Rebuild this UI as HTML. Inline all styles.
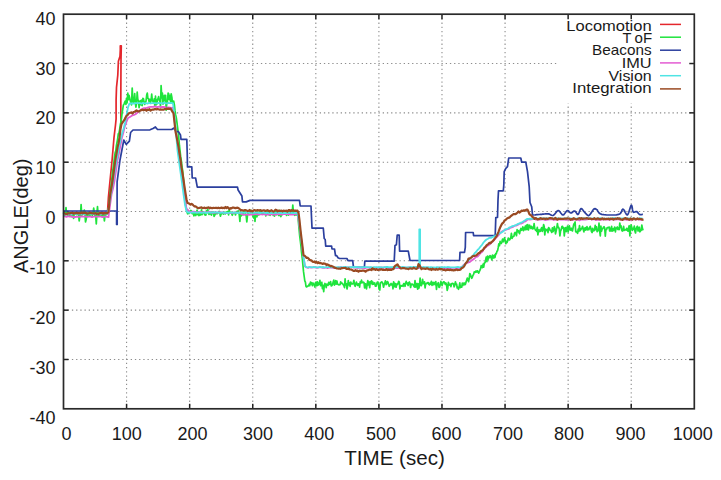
<!DOCTYPE html>
<html><head><meta charset="utf-8"><title>ANGLE vs TIME</title>
<style>
html,body{margin:0;padding:0;background:#fff;}
body{width:721px;height:480px;overflow:hidden;}
svg{display:block;}
text{font-family:"Liberation Sans",sans-serif;fill:#1a1a1a;}
.tk{font-size:18px;}
.ttl{font-size:20px;}
.lg{font-size:14.6px;}
</style></head><body>
<svg width="721" height="480" viewBox="0 0 721 480"><g stroke="#8c8c8c" stroke-width="1.1" stroke-dasharray="1.3 2.9"><line x1="126.58" y1="14.20" x2="126.58" y2="408.80"/><line x1="189.66" y1="14.20" x2="189.66" y2="408.80"/><line x1="252.74" y1="14.20" x2="252.74" y2="408.80"/><line x1="315.82" y1="14.20" x2="315.82" y2="408.80"/><line x1="378.90" y1="14.20" x2="378.90" y2="408.80"/><line x1="441.98" y1="14.20" x2="441.98" y2="408.80"/><line x1="505.06" y1="14.20" x2="505.06" y2="408.80"/><line x1="568.14" y1="14.20" x2="568.14" y2="408.80"/><line x1="631.22" y1="14.20" x2="631.22" y2="408.80"/><line x1="63.50" y1="63.53" x2="694.30" y2="63.53"/><line x1="63.50" y1="112.85" x2="694.30" y2="112.85"/><line x1="63.50" y1="162.18" x2="694.30" y2="162.18"/><line x1="63.50" y1="211.50" x2="694.30" y2="211.50"/><line x1="63.50" y1="260.82" x2="694.30" y2="260.82"/><line x1="63.50" y1="310.15" x2="694.30" y2="310.15"/><line x1="63.50" y1="359.48" x2="694.30" y2="359.48"/></g>
<rect x="558" y="15" width="135" height="88.5" fill="#fff"/>
<g stroke="#222" stroke-width="1.5"><line x1="126.58" y1="408.80" x2="126.58" y2="403.80"/><line x1="126.58" y1="14.20" x2="126.58" y2="19.20"/><line x1="189.66" y1="408.80" x2="189.66" y2="403.80"/><line x1="189.66" y1="14.20" x2="189.66" y2="19.20"/><line x1="252.74" y1="408.80" x2="252.74" y2="403.80"/><line x1="252.74" y1="14.20" x2="252.74" y2="19.20"/><line x1="315.82" y1="408.80" x2="315.82" y2="403.80"/><line x1="315.82" y1="14.20" x2="315.82" y2="19.20"/><line x1="378.90" y1="408.80" x2="378.90" y2="403.80"/><line x1="378.90" y1="14.20" x2="378.90" y2="19.20"/><line x1="441.98" y1="408.80" x2="441.98" y2="403.80"/><line x1="441.98" y1="14.20" x2="441.98" y2="19.20"/><line x1="505.06" y1="408.80" x2="505.06" y2="403.80"/><line x1="505.06" y1="14.20" x2="505.06" y2="19.20"/><line x1="568.14" y1="408.80" x2="568.14" y2="403.80"/><line x1="568.14" y1="14.20" x2="568.14" y2="19.20"/><line x1="631.22" y1="408.80" x2="631.22" y2="403.80"/><line x1="631.22" y1="14.20" x2="631.22" y2="19.20"/><line x1="63.50" y1="63.53" x2="68.50" y2="63.53"/><line x1="694.30" y1="63.53" x2="689.30" y2="63.53"/><line x1="63.50" y1="112.85" x2="68.50" y2="112.85"/><line x1="694.30" y1="112.85" x2="689.30" y2="112.85"/><line x1="63.50" y1="162.18" x2="68.50" y2="162.18"/><line x1="694.30" y1="162.18" x2="689.30" y2="162.18"/><line x1="63.50" y1="211.50" x2="68.50" y2="211.50"/><line x1="694.30" y1="211.50" x2="689.30" y2="211.50"/><line x1="63.50" y1="260.82" x2="68.50" y2="260.82"/><line x1="694.30" y1="260.82" x2="689.30" y2="260.82"/><line x1="63.50" y1="310.15" x2="68.50" y2="310.15"/><line x1="694.30" y1="310.15" x2="689.30" y2="310.15"/><line x1="63.50" y1="359.48" x2="68.50" y2="359.48"/><line x1="694.30" y1="359.48" x2="689.30" y2="359.48"/></g>
<polyline points="63.5,212.5 107.5,212.5 108.4,197.5 110.0,181.2 112.1,160.0 114.0,137.5 115.5,125.0 116.1,118.8 116.1,100.0 116.5,87.5 117.8,75.0 118.4,61.2 120.0,56.2 120.3,50.0 120.3,45.8 121.3,45.8 121.0,60.0 120.8,100.0 120.9,118.8 121.2,125.0" fill="none" stroke="#e4262c" stroke-width="1.7" stroke-linejoin="round" stroke-linecap="butt" />
<polyline points="63.5,212.6 64.1,215.0 64.8,215.9 65.4,213.6 66.0,207.5 66.6,214.3 67.3,215.1 67.9,216.0 68.5,212.6 69.2,212.5 69.8,215.5 70.4,215.1 71.1,216.7 71.7,215.9 72.3,214.2 72.9,214.0 73.6,218.3 74.2,214.0 74.8,213.2 75.5,212.7 76.1,214.5 76.7,214.6 77.4,213.9 78.0,214.3 78.6,214.8 79.2,221.0 79.9,216.0 80.5,214.7 81.1,204.5 81.8,215.5 82.4,212.3 83.0,214.1 83.7,212.2 84.3,210.0 84.9,213.2 85.5,222.0 86.2,219.4 86.8,214.3 87.4,215.7 88.1,212.4 88.7,214.0 89.3,215.4 90.0,214.3 90.6,215.0 91.2,214.6 91.8,212.9 92.5,215.2 93.1,213.2 93.7,208.0 94.4,213.6 95.0,215.4 95.6,214.4 96.3,224.0 96.9,213.5 97.5,206.5 98.1,214.2 98.8,216.3 99.4,215.3 100.0,214.6 100.7,213.2 101.3,215.6 101.9,215.1 102.6,216.9 103.2,213.8 103.8,215.2 104.4,221.0 105.1,214.8 105.7,214.7 106.3,214.7 107.0,213.5 107.6,213.6 108.2,211.4 108.9,206.0 109.5,198.8 110.1,193.2 110.7,188.0 111.4,182.6 112.0,177.3 112.6,171.6 113.3,166.7 113.9,162.3 114.5,156.6 115.2,152.5 115.8,150.8 116.4,145.7 117.0,142.5 117.7,138.6 118.3,133.8 118.9,133.5 119.6,129.8 120.2,125.4 120.8,122.4 121.5,118.3 122.1,113.2 122.7,109.4 123.3,105.3 124.0,104.1 124.6,102.6 125.2,101.1 125.9,104.4 126.5,98.3 127.1,102.8 127.8,93.0 128.4,99.6 129.0,95.3 129.6,97.8 130.3,101.1 130.9,102.0 131.5,104.9 132.2,88.0 132.8,100.4 133.4,102.3 134.1,100.0 134.7,93.5 135.3,102.7 135.9,107.1 136.6,103.3 137.2,92.0 137.8,99.2 138.5,101.0 139.1,107.6 139.7,102.1 140.4,100.7 141.0,104.9 141.6,100.1 142.2,105.7 142.9,98.3 143.5,98.9 144.1,102.4 144.8,104.4 145.4,102.2 146.0,101.2 146.7,95.0 147.3,93.0 147.9,98.5 148.5,98.7 149.2,102.0 149.8,99.3 150.4,102.5 151.1,100.5 151.7,94.0 152.3,100.6 153.0,101.5 153.6,102.7 154.2,98.8 154.8,106.0 155.5,96.2 156.1,104.8 156.7,104.4 157.4,99.6 158.0,98.8 158.6,96.6 159.3,100.6 159.9,100.7 160.5,106.5 161.1,85.5 161.8,97.9 162.4,93.0 163.0,104.2 163.7,100.7 164.3,95.4 164.9,100.6 165.6,95.4 166.2,110.2 166.8,103.3 167.4,101.7 168.1,93.0 168.7,93.8 169.3,99.7 170.0,95.5 170.6,101.8 171.2,93.8 171.9,97.4 172.5,103.5 173.1,101.3 173.7,101.2 174.4,104.8 175.0,110.7 175.6,114.7 176.3,117.6 176.9,122.2 177.5,126.8 178.2,132.0 178.8,138.0 179.4,145.2 180.0,150.3 180.7,156.9 181.3,160.5 181.9,165.8 182.6,170.5 183.2,176.5 183.8,181.7 184.5,189.0 185.1,198.6 185.7,205.3 186.3,208.1 187.0,211.8 187.6,213.8 188.2,212.2 188.9,213.5 189.5,212.8 190.1,211.5 190.8,210.5 191.4,210.9 192.0,213.4 192.6,213.7 193.3,212.6 193.9,215.8 194.5,213.7 195.2,214.4 195.8,215.5 196.4,212.0 197.1,210.1 197.7,214.7 198.3,212.2 198.9,215.6 199.6,214.0 200.2,215.1 200.8,214.7 201.5,209.9 202.1,214.6 202.7,212.3 203.4,212.1 204.0,212.7 204.6,214.7 205.2,214.9 205.9,215.1 206.5,210.6 207.1,212.4 207.8,209.4 208.4,213.2 209.0,214.4 209.7,212.1 210.3,213.8 210.9,213.8 211.5,215.1 212.2,212.0 212.8,212.0 213.4,212.1 214.1,216.4 214.7,215.3 215.3,213.2 216.0,213.8 216.6,213.6 217.2,213.7 217.8,213.0 218.5,212.8 219.1,211.3 219.7,212.3 220.4,216.2 221.0,214.3 221.6,213.5 222.3,213.0 222.9,213.5 223.5,214.0 224.1,212.3 224.8,213.7 225.4,213.8 226.0,212.1 226.7,212.1 227.3,211.7 227.9,211.6 228.6,214.9 229.2,209.4 229.8,212.9 230.4,212.4 231.1,212.3 231.7,213.6 232.3,215.3 233.0,213.5 233.6,213.2 234.2,212.4 234.9,213.2 235.5,215.0 236.1,212.7 236.7,211.5 237.4,211.3 238.0,211.5 238.6,211.0 239.3,215.3 239.9,221.5 240.5,213.0 241.2,215.9 241.8,212.3 242.4,214.7 243.0,214.8 243.7,210.8 244.3,210.8 244.9,211.8 245.6,214.9 246.2,215.6 246.8,222.0 247.5,215.2 248.1,212.7 248.7,212.7 249.3,212.5 250.0,212.8 250.6,210.3 251.2,211.7 251.9,211.3 252.5,214.2 253.1,217.0 253.8,218.0 254.4,212.8 255.0,221.5 255.6,212.7 256.3,211.8 256.9,216.8 257.5,214.4 258.2,212.2 258.8,215.0 259.4,214.3 260.1,210.6 260.7,212.5 261.3,213.0 261.9,213.4 262.6,213.6 263.2,212.8 263.8,213.7 264.5,212.4 265.1,211.9 265.7,216.0 266.4,214.0 267.0,214.1 267.6,210.7 268.2,213.1 268.9,214.8 269.5,211.2 270.1,215.3 270.8,212.7 271.4,214.1 272.0,213.2 272.7,213.8 273.3,215.4 273.9,212.7 274.5,216.1 275.2,212.1 275.8,211.8 276.4,214.6 277.1,211.6 277.7,212.8 278.3,214.9 279.0,215.5 279.6,210.4 280.2,214.3 280.8,216.6 281.5,215.4 282.1,213.0 282.7,212.4 283.4,212.9 284.0,211.4 284.6,213.0 285.3,213.1 285.9,213.2 286.5,215.4 287.1,213.0 287.8,210.9 288.4,215.2 289.0,211.6 289.7,212.6 290.3,213.2 290.9,212.8 291.6,211.7 292.2,213.0 292.8,205.0 293.4,212.4 294.1,213.2 294.7,215.3 295.3,214.7 296.0,214.7 296.6,214.9 297.2,211.9 297.9,216.2 298.5,223.0 299.1,229.3 299.7,235.9 300.4,241.3 301.0,246.7 301.6,252.9 302.3,258.7 302.9,265.0 303.5,271.4 304.2,276.5 304.8,280.8 305.4,282.2 306.0,286.5 306.7,286.9 307.3,286.3 307.9,286.0 308.6,285.9 309.2,284.2 309.8,285.6 310.5,282.0 311.1,283.8 311.7,282.7 312.3,285.7 313.0,283.0 313.6,284.0 314.2,285.0 314.9,287.0 315.5,282.5 316.1,282.2 316.8,285.9 317.4,281.9 318.0,285.2 318.6,283.0 319.3,284.0 319.9,280.4 320.5,285.7 321.2,283.1 321.8,282.3 322.4,288.6 323.1,285.7 323.7,291.6 324.3,285.1 324.9,283.5 325.6,284.4 326.2,287.6 326.8,284.1 327.5,285.1 328.1,285.3 328.7,282.3 329.4,284.5 330.0,283.1 330.6,281.6 331.2,286.0 331.9,285.6 332.5,284.4 333.1,282.3 333.8,280.0 334.4,285.2 335.0,284.0 335.7,280.7 336.3,284.1 336.9,281.0 337.5,284.1 338.2,284.5 338.8,284.9 339.4,284.7 340.1,284.6 340.7,281.8 341.3,283.4 342.0,283.1 342.6,283.7 343.2,284.8 343.8,285.5 344.5,287.6 345.1,278.8 345.7,285.0 346.4,283.8 347.0,289.0 347.6,286.2 348.3,280.7 348.9,285.0 349.5,283.1 350.1,286.3 350.8,282.0 351.4,284.0 352.0,283.9 352.7,284.0 353.3,283.0 353.9,280.3 354.6,285.2 355.2,286.3 355.8,284.1 356.4,282.1 357.1,284.6 357.7,285.4 358.3,283.8 359.0,284.2 359.6,287.2 360.2,281.9 360.9,283.0 361.5,280.2 362.1,282.7 362.7,282.6 363.4,282.2 364.0,282.7 364.6,288.0 365.3,283.8 365.9,284.0 366.5,288.8 367.2,284.1 367.8,280.6 368.4,285.0 369.0,282.2 369.7,287.6 370.3,281.6 370.9,283.0 371.6,280.8 372.2,284.4 372.8,282.1 373.5,284.1 374.1,283.4 374.7,282.9 375.3,286.2 376.0,286.2 376.6,284.3 377.2,282.3 377.9,282.0 378.5,284.8 379.1,289.2 379.8,290.0 380.4,282.6 381.0,282.7 381.6,281.9 382.3,282.2 382.9,283.8 383.5,287.2 384.2,284.2 384.8,283.1 385.4,280.8 386.1,284.6 386.7,284.1 387.3,281.6 387.9,281.9 388.6,284.1 389.2,286.3 389.8,285.5 390.5,284.6 391.1,283.5 391.7,284.9 392.4,284.2 393.0,288.8 393.6,281.8 394.2,283.4 394.9,286.9 395.5,283.6 396.1,287.2 396.8,284.1 397.4,284.5 398.0,283.4 398.7,281.3 399.3,282.2 399.9,288.9 400.5,285.6 401.2,285.5 401.8,286.2 402.4,285.4 403.1,286.3 403.7,283.6 404.3,283.7 405.0,286.3 405.6,283.5 406.2,281.4 406.8,283.7 407.5,283.1 408.1,285.5 408.7,282.7 409.4,282.0 410.0,283.5 410.6,287.5 411.3,284.1 411.9,284.5 412.5,284.2 413.1,284.8 413.8,286.1 414.4,287.1 415.0,280.7 415.7,287.1 416.3,284.2 416.9,283.5 417.6,289.2 418.2,283.8 418.8,288.3 419.4,286.2 420.1,278.0 420.7,285.2 421.3,285.7 422.0,283.9 422.6,279.3 423.2,283.5 423.9,283.8 424.5,281.9 425.1,288.0 425.7,283.7 426.4,283.4 427.0,283.6 427.6,282.6 428.3,282.6 428.9,284.4 429.5,284.9 430.2,283.1 430.8,284.0 431.4,281.3 432.0,285.3 432.7,282.6 433.3,284.7 433.9,282.3 434.6,283.1 435.2,284.7 435.8,281.7 436.5,289.4 437.1,284.1 437.7,284.0 438.3,282.7 439.0,287.5 439.6,287.1 440.2,284.8 440.9,281.4 441.5,283.2 442.1,285.6 442.8,283.2 443.4,281.8 444.0,281.8 444.6,282.7 445.3,284.4 445.9,283.0 446.5,284.4 447.2,290.3 447.8,288.2 448.4,282.3 449.1,285.2 449.7,284.7 450.3,284.2 450.9,286.6 451.6,283.6 452.2,283.6 452.8,283.4 453.5,283.9 454.1,286.8 454.7,285.7 455.4,281.8 456.0,284.2 456.6,284.0 457.2,288.0 457.9,287.3 458.5,289.3 459.1,287.1 459.8,282.9 460.4,287.6 461.0,286.8 461.7,287.1 462.3,283.0 462.9,285.5 463.5,283.5 464.2,283.0 464.8,284.8 465.4,284.4 466.1,281.7 466.7,279.9 467.3,278.0 468.0,280.1 468.6,281.7 469.2,278.5 469.8,273.5 470.5,274.9 471.1,276.6 471.7,278.3 472.4,277.0 473.0,275.2 473.6,274.4 474.3,271.8 474.9,272.4 475.5,272.2 476.1,271.0 476.8,272.0 477.4,270.8 478.0,271.7 478.7,273.1 479.3,271.5 479.9,270.4 480.6,268.6 481.2,265.6 481.8,267.3 482.4,267.6 483.1,264.2 483.7,267.2 484.3,263.1 485.0,262.8 485.6,260.2 486.2,257.2 486.9,261.7 487.5,256.0 488.1,259.3 488.7,256.5 489.4,257.7 490.0,255.6 490.6,256.0 491.3,258.2 491.9,259.9 492.5,255.1 493.2,256.4 493.8,258.0 494.4,255.2 495.0,257.4 495.7,253.6 496.3,253.8 496.9,251.4 497.6,250.6 498.2,247.7 498.8,243.8 499.5,245.7 500.1,241.4 500.7,243.3 501.3,243.4 502.0,241.2 502.6,239.0 503.2,241.8 503.9,239.8 504.5,237.9 505.1,240.0 505.8,243.7 506.4,241.3 507.0,242.6 507.6,241.0 508.3,238.0 508.9,239.2 509.5,239.9 510.2,238.9 510.8,237.5 511.4,233.4 512.1,238.4 512.7,236.8 513.3,236.6 513.9,236.3 514.6,233.0 515.2,232.4 515.8,233.6 516.5,235.6 517.1,229.6 517.7,231.8 518.4,230.7 519.0,232.5 519.6,233.7 520.2,230.4 520.9,228.5 521.5,230.3 522.1,229.4 522.8,226.9 523.4,230.7 524.0,228.0 524.7,229.7 525.3,226.0 525.9,229.7 526.5,225.1 527.2,229.4 527.8,224.6 528.4,230.0 529.1,227.1 529.7,225.2 530.3,227.5 531.0,228.5 531.6,226.4 532.2,227.4 532.8,228.9 533.5,228.3 534.1,223.5 534.7,228.2 535.4,230.0 536.0,229.7 536.6,231.3 537.3,227.4 537.9,234.9 538.5,230.8 539.1,229.7 539.8,231.5 540.4,231.2 541.0,229.2 541.7,227.6 542.3,231.4 542.9,230.0 543.6,224.6 544.2,226.5 544.8,235.0 545.4,229.2 546.1,229.6 546.7,230.5 547.3,229.3 548.0,232.6 548.6,227.6 549.2,228.1 549.9,229.7 550.5,230.7 551.1,230.8 551.7,232.4 552.4,227.9 553.0,231.7 553.6,230.1 554.3,226.6 554.9,228.7 555.5,233.8 556.2,230.8 556.8,227.9 557.4,223.5 558.0,227.3 558.7,227.4 559.3,229.2 559.9,236.0 560.6,230.7 561.2,229.7 561.8,226.8 562.5,226.3 563.1,228.5 563.7,227.9 564.3,235.9 565.0,228.1 565.6,227.6 566.2,231.6 566.9,229.2 567.5,226.2 568.1,232.0 568.8,228.3 569.4,225.9 570.0,229.7 570.6,230.1 571.3,228.2 571.9,230.6 572.5,230.9 573.2,227.0 573.8,224.3 574.4,223.5 575.1,222.0 575.7,231.8 576.3,231.3 576.9,232.2 577.6,233.3 578.2,229.0 578.8,231.4 579.5,225.5 580.1,230.6 580.7,229.9 581.4,228.8 582.0,228.0 582.6,226.4 583.2,229.3 583.9,231.9 584.5,228.2 585.1,230.2 585.8,227.5 586.4,229.6 587.0,226.7 587.7,229.9 588.3,228.5 588.9,229.7 589.5,227.6 590.2,226.3 590.8,228.2 591.4,231.4 592.1,232.6 592.7,228.3 593.3,230.8 594.0,230.7 594.6,229.9 595.2,225.4 595.8,229.7 596.5,226.8 597.1,231.7 597.7,230.8 598.4,230.4 599.0,223.2 599.6,230.4 600.3,236.0 600.9,226.1 601.5,231.2 602.1,229.2 602.8,228.6 603.4,227.4 604.0,226.7 604.7,228.0 605.3,236.1 605.9,229.5 606.6,229.5 607.2,227.5 607.8,227.6 608.4,227.7 609.1,227.0 609.7,231.0 610.3,228.4 611.0,231.0 611.6,226.3 612.2,231.1 612.9,228.9 613.5,230.5 614.1,228.8 614.7,227.0 615.4,231.8 616.0,228.0 616.6,228.7 617.3,227.0 617.9,229.5 618.5,228.1 619.2,229.6 619.8,223.0 620.4,227.4 621.0,225.8 621.7,230.0 622.3,231.1 622.9,230.6 623.6,226.4 624.2,230.4 624.8,229.9 625.5,229.7 626.1,230.0 626.7,228.3 627.3,229.5 628.0,231.1 628.6,227.8 629.2,225.7 629.9,236.0 630.5,229.5 631.1,224.8 631.8,227.4 632.4,230.4 633.0,228.7 633.6,229.2 634.3,226.1 634.9,231.1 635.5,233.0 636.2,228.5 636.8,227.3 637.4,226.3 638.1,231.0 638.7,229.2 639.3,227.2 639.9,231.8 640.6,230.8 641.2,230.4 641.8,225.0 642.5,228.8 643.1,230.4" fill="none" stroke="#1ee43c" stroke-width="1.7" stroke-linejoin="round" stroke-linecap="butt" />
<polyline points="63.5,211.0 116.6,211.0 116.6,224.4 117.2,224.4 117.1,200.0 117.1,181.9 120.0,160.0 121.9,150.0 123.8,140.0 126.2,144.4 129.4,141.2 130.6,132.5 133.0,130.0 140.0,130.0 150.0,129.8 153.0,128.5 155.4,127.0 157.5,129.5 172.0,129.3 173.6,128.1 176.0,131.0 178.6,131.9 180.5,135.0 181.0,139.4 186.8,139.4 187.2,152.5 187.5,166.9 191.8,166.9 192.2,178.0 195.6,178.0 197.3,187.2 237.5,187.2 238.1,190.0 240.0,193.0 241.9,196.0 242.5,201.9 246.2,201.9 250.0,200.4 299.5,200.4 300.2,206.0 311.0,206.0 312.0,228.2 323.3,228.2 324.2,238.5 325.2,239.5 325.7,246.1 331.6,246.1 332.0,249.0 334.5,249.0 335.5,255.6 336.7,255.6 338.0,257.8 339.6,258.5 346.9,258.5 348.0,260.7 352.7,260.7 353.5,267.3 364.4,267.3 364.8,261.2 394.2,261.2 395.0,245.4 396.4,244.7 397.2,235.2 399.2,235.2 399.6,251.2 408.3,251.2 410.0,260.5 459.6,260.5 460.0,252.3 464.5,252.3 465.3,247.4 465.6,232.5 473.2,232.5 473.6,235.6 495.2,235.6 495.8,217.5 497.5,217.5 498.0,200.0 498.5,190.8 503.3,190.8 503.8,185.0 504.2,171.7 505.8,168.3 507.5,166.7 508.7,158.0 520.8,158.0 521.7,162.2 525.8,162.2 527.5,171.7 529.2,186.7 530.0,202.5 531.7,206.7 532.5,215.0 534.2,215.0" fill="none" stroke="#2b3f9e" stroke-width="1.7" stroke-linejoin="round" stroke-linecap="butt" />
<polyline points="534.2,215.0 534.6,215.0 535.2,214.9 535.8,214.8 536.5,214.7 537.3,214.7 538.0,214.6 538.7,214.5 539.4,214.5 540.2,214.4 540.9,214.3 541.8,214.3 542.6,214.2 543.5,214.1 544.5,214.0 545.5,213.9 546.5,213.9 547.5,213.8 548.4,213.9 549.3,214.1 550.1,214.5 550.9,214.9 551.7,215.3 552.5,215.5 553.3,215.4 554.1,214.8 554.9,213.9 555.8,212.8 556.6,211.7 557.4,210.9 558.2,210.5 559.0,210.8 559.8,211.6 560.6,212.7 561.4,213.7 562.2,214.6 563.0,214.9 563.8,214.6 564.5,213.8 565.3,212.8 566.0,211.8 566.7,210.9 567.4,210.5 568.0,210.6 568.6,211.0 569.1,211.6 569.7,212.2 570.2,212.8 570.8,213.0 571.4,212.9 572.1,212.5 572.8,211.9 573.4,211.4 574.1,211.1 574.7,211.0 575.3,211.4 575.9,212.1 576.4,212.9 576.9,213.7 577.5,214.3 578.0,214.4 578.5,213.9 579.0,212.8 579.5,211.5 580.0,210.2 580.5,209.2 581.0,208.6 581.5,208.6 581.9,208.9 582.4,209.4 582.9,210.1 583.4,210.9 583.9,211.5 584.5,212.1 585.2,212.9 585.9,213.7 586.6,214.4 587.2,215.0 587.8,215.4 588.2,215.6 588.6,215.6 588.9,215.5 589.2,215.2 589.6,214.9 590.0,214.4 590.6,213.7 591.2,212.7 591.9,211.7 592.6,210.6 593.3,209.7 593.9,209.1 594.4,208.8 594.9,208.7 595.3,208.7 595.7,208.9 596.2,209.2 596.8,209.6 597.4,210.2 597.8,211.1 598.4,212.0 599.1,213.0 600.2,213.8 601.7,214.4 604.0,214.7 606.9,215.0 610.2,215.0 613.4,215.0 616.4,214.8 618.6,214.4 620.1,213.7 621.0,212.6 621.6,211.4 622.0,210.2 622.4,209.4 623.0,209.1 623.7,209.6 624.5,210.8 625.2,212.3 626.0,213.7 626.7,214.7 627.4,214.9 628.1,214.0 628.8,212.2 629.5,210.0 630.2,207.8 630.8,206.0 631.3,205.2 631.7,205.5 632.0,206.5 632.3,208.0 632.5,209.7 632.8,211.1 633.2,212.0 633.7,212.3 634.2,212.2 634.8,212.0 635.4,211.7 636.0,211.5 636.6,211.5 637.1,211.8 637.6,212.3 638.0,212.9 638.5,213.5 639.0,214.0 639.5,214.4 640.1,214.6 640.7,214.6 641.4,214.6 642.0,214.5 642.5,214.4 642.9,214.4" fill="none" stroke="#2b3f9e" stroke-width="1.7" stroke-linejoin="round" stroke-linecap="butt" />
<polyline points="63.5,216.4 65.0,216.4 66.5,216.9 68.0,216.1 69.5,216.7 71.0,216.1 72.5,217.0 74.0,216.8 75.5,217.0 77.0,216.6 78.5,216.8 80.0,216.6 81.5,216.5 83.0,216.7 84.5,216.4 86.0,216.6 87.5,216.9 89.0,216.7 90.5,216.6 92.0,217.2 93.5,216.7 95.0,216.6 96.5,216.7 98.0,216.6 99.5,216.6 101.0,216.6 102.5,217.2 104.0,216.7 105.5,216.7 107.0,216.9 108.5,217.2 110.0,205.3 111.5,194.6 113.0,188.6 114.5,180.9 116.0,170.5 117.5,160.2 119.0,153.2 120.5,145.1 122.0,137.4 123.5,132.1 125.0,125.9 126.5,121.7 128.0,118.1 129.5,117.2 131.0,116.3 132.5,115.3 134.0,114.9 135.5,114.2 137.0,113.0 138.5,111.6 140.0,110.5 141.5,109.3 143.0,108.5 144.5,108.2 146.0,108.2 147.5,107.5 149.0,107.1 150.5,106.9 152.0,106.8 153.5,106.8 155.0,106.3 156.5,107.2 158.0,106.9 159.5,106.6 161.0,107.2 162.5,107.0 164.0,107.0 165.5,107.3 167.0,107.6 168.5,107.3 170.0,107.6 171.5,107.9 173.0,107.7 174.5,119.9 176.0,131.8 177.5,142.0 179.0,153.1 180.5,164.3 182.0,175.1 183.5,186.5 185.0,198.9 186.5,209.1 188.0,210.1 189.5,211.7 191.0,212.1 192.5,211.6 194.0,211.7 195.5,211.8 197.0,212.6 198.5,212.0 200.0,212.1 201.5,212.2 203.0,212.4 204.5,212.4 206.0,212.4 207.5,212.0 209.0,211.6 210.5,212.5 212.0,212.5 213.5,212.8 215.0,212.5 216.5,212.4 218.0,212.7 219.5,212.2 221.0,212.4 222.5,212.4 224.0,212.8 225.5,213.2 227.0,212.9 228.5,213.1 230.0,212.9 231.5,212.9 233.0,212.7 234.5,212.8 236.0,212.3 237.5,212.6 239.0,212.7 240.5,213.4 242.0,214.1 243.5,214.7 245.0,214.8 246.5,214.3 248.0,214.7 249.5,214.9 251.0,214.4 252.5,214.7 254.0,214.4 255.5,214.0 257.0,214.4 258.5,214.2 260.0,214.4 261.5,214.3 263.0,214.5 264.5,213.9 266.0,214.9 267.5,214.7 269.0,214.3 270.5,214.2 272.0,214.4 273.5,214.6 275.0,214.5 276.5,214.5 278.0,213.9 279.5,214.1 281.0,214.7 282.5,214.5 284.0,214.0 285.5,214.2 287.0,214.0 288.5,214.1 290.0,214.7 291.5,214.3 293.0,214.7 294.5,214.4 296.0,214.0 297.5,214.2 299.0,222.8 300.5,233.8 302.0,245.4 303.5,257.7 305.0,266.5 306.5,267.5 308.0,267.9 309.5,267.1 311.0,267.6 312.5,267.3 314.0,267.2 315.5,267.3 317.0,267.8 318.5,267.5 320.0,267.1 321.5,267.3 323.0,267.9 324.5,267.8 326.0,267.3 327.5,268.2 329.0,267.5 330.5,267.3 332.0,267.5 333.5,267.8 335.0,268.0 336.5,267.9 338.0,267.5 339.5,267.5 341.0,267.2 342.5,267.6 344.0,267.5 345.5,267.7 347.0,267.3 348.5,267.5 350.0,267.4 351.5,267.3 353.0,267.3 354.5,267.4 356.0,267.4 357.5,267.8 359.0,267.7 360.5,267.3 362.0,267.8 363.5,267.8 365.0,268.1 366.5,267.6 368.0,267.6 369.5,267.5 371.0,267.7 372.5,267.8 374.0,267.8 375.5,267.7 377.0,267.9 378.5,267.8 380.0,267.8 381.5,267.5 383.0,267.8 384.5,267.5 386.0,267.5 387.5,267.8 389.0,268.3 390.5,268.0 392.0,267.8 393.5,267.7 395.0,268.0 396.5,268.1 398.0,268.1 399.5,267.8 401.0,267.9 402.5,267.7 404.0,267.7 405.5,267.6 407.0,267.8 408.5,267.3 410.0,267.5 411.5,268.0 413.0,267.6 414.5,268.0 416.0,267.5 417.5,267.8 419.0,268.0 420.5,267.6 422.0,267.7 423.5,268.5 425.0,267.7 426.5,267.7 428.0,267.7 429.5,267.9 431.0,267.9 432.5,268.2 434.0,268.1 435.5,267.8 437.0,267.8 438.5,267.6 440.0,267.6 441.5,267.8 443.0,268.1 444.5,268.0 446.0,268.2 447.5,268.2 449.0,267.9 450.5,268.5 452.0,267.8 453.5,267.8 455.0,267.9 456.5,268.3 458.0,268.0 459.5,267.8 461.0,267.3 462.5,266.2 464.0,264.6 465.5,263.4 467.0,262.9 468.5,262.3 470.0,261.8 471.5,260.4 473.0,259.6 474.5,258.5 476.0,256.9 477.5,256.7 479.0,254.9 480.5,253.1 482.0,252.1 483.5,249.8 485.0,247.9 486.5,246.6 488.0,245.6 489.5,244.5 491.0,243.1 492.5,241.7 494.0,240.2 495.5,238.5 497.0,236.7 498.5,235.3 500.0,233.4 501.5,231.8 503.0,230.9 504.5,230.2 506.0,229.8 507.5,229.1 509.0,228.8 510.5,227.6 512.0,227.3 513.5,226.6 515.0,225.6 516.5,225.5 518.0,224.8 519.5,223.6 521.0,223.6 522.5,223.0 524.0,221.7 525.5,221.4 527.0,220.1 528.5,219.2 530.0,219.6 531.5,219.4 533.0,219.2 534.5,219.0 536.0,219.6 537.5,219.3 539.0,219.7 540.5,219.6 542.0,219.4 543.5,219.4 545.0,220.0 546.5,219.9 548.0,219.7 549.5,219.4 551.0,219.2 552.5,219.4 554.0,219.9 555.5,219.6 557.0,219.4 558.5,219.2 560.0,219.5 561.5,219.3 563.0,219.5 564.5,219.7 566.0,219.8 567.5,219.5 569.0,219.4 570.5,219.6 572.0,220.0 573.5,219.6 575.0,219.1 576.5,219.9 578.0,219.6 579.5,220.4 581.0,219.4 582.5,219.5 584.0,219.4 585.5,219.6 587.0,219.4 588.5,219.1 590.0,219.0 591.5,219.5 593.0,219.4 594.5,219.4 596.0,220.0 597.5,219.7 599.0,219.8 600.5,219.4 602.0,219.6 603.5,219.4 605.0,219.4 606.5,219.7 608.0,219.7 609.5,219.6 611.0,219.5 612.5,219.1 614.0,219.3 615.5,219.6 617.0,219.4 618.5,219.3 620.0,219.6 621.5,219.3 623.0,219.3 624.5,219.7 626.0,219.4 627.5,219.9 629.0,219.6 630.5,219.7 632.0,219.8 633.5,219.0 635.0,219.5 636.5,219.2 638.0,219.4 639.5,219.5 641.0,219.8 642.5,219.5" fill="none" stroke="#e35bd2" stroke-width="1.8" stroke-linejoin="round" stroke-linecap="butt" />
<polyline points="63.5,214.0 65.0,214.3 66.5,213.8 68.0,214.2 69.5,213.9 71.0,213.9 72.5,214.4 74.0,214.0 75.5,214.0 77.0,214.1 78.5,214.2 80.0,214.0 81.5,214.1 83.0,213.8 84.5,213.9 86.0,213.9 87.5,213.7 89.0,213.7 90.5,213.7 92.0,214.0 93.5,214.0 95.0,213.9 96.5,214.0 98.0,213.7 99.5,214.0 101.0,214.0 102.5,214.2 104.0,213.8 105.5,213.9 107.0,213.6 108.5,209.4 110.0,199.6 111.5,190.7 113.0,182.1 114.5,172.1 116.0,163.3 117.5,155.1 119.0,147.4 120.5,140.1 122.0,134.1 123.5,129.0 125.0,123.0 126.5,115.4 128.0,107.4 129.5,103.3 131.0,103.5 132.5,103.3 134.0,103.7 135.5,103.1 137.0,103.2 138.5,103.2 140.0,103.0 141.5,103.7 143.0,102.9 144.5,103.3 146.0,103.2 147.5,103.6 149.0,102.9 150.5,103.5 152.0,103.1 153.5,103.2 155.0,103.1 156.5,103.3 158.0,102.9 159.5,103.1 161.0,103.2 162.5,103.5 164.0,102.6 165.5,103.4 167.0,103.3 168.5,103.0 170.0,103.1 171.5,102.9 173.0,103.3 174.5,116.0 176.0,132.3 177.5,150.7 179.0,161.4 180.5,172.1 182.0,182.7 183.5,194.2 185.0,204.7 186.5,211.3 188.0,212.5 189.5,212.5 191.0,212.6 192.5,212.5 194.0,212.5 195.5,212.6 197.0,212.7 198.5,212.5 200.0,212.5 201.5,212.9 203.0,212.7 204.5,212.4 206.0,213.0 207.5,212.7 209.0,212.5 210.5,212.4 212.0,212.7 213.5,212.4 215.0,212.4 216.5,212.4 218.0,212.5 219.5,212.9 221.0,212.6 222.5,212.4 224.0,212.8 225.5,212.7 227.0,212.8 228.5,212.9 230.0,212.7 231.5,212.7 233.0,212.7 234.5,212.5 236.0,212.9 237.5,213.0 239.0,212.8 240.5,212.7 242.0,212.7 243.5,212.6 245.0,212.6 246.5,212.7 248.0,212.6 249.5,212.7 251.0,212.5 252.5,212.9 254.0,212.8 255.5,212.6 257.0,212.4 258.5,212.8 260.0,213.0 261.5,212.7 263.0,212.7 264.5,212.7 266.0,213.0 267.5,212.7 269.0,213.1 270.5,212.8 272.0,213.1 273.5,212.9 275.0,212.8 276.5,212.6 278.0,212.8 279.5,212.9 281.0,213.1 282.5,213.0 284.0,212.8 285.5,213.0 287.0,213.1 288.5,212.9 290.0,212.9 291.5,212.9 293.0,213.1 294.5,213.1 296.0,212.8 297.5,213.1 299.0,220.9 300.5,232.8 302.0,245.1 303.5,257.0 305.0,265.9 306.5,267.2 308.0,267.3 309.5,267.1 311.0,267.2 312.5,267.3 314.0,266.8 315.5,267.3 317.0,267.3 318.5,267.3 320.0,266.9 321.5,267.3 323.0,267.0 324.5,267.3 326.0,267.3 327.5,267.2 329.0,267.0 330.5,267.1 332.0,267.4 333.5,267.0 335.0,267.3 336.5,267.3 338.0,267.1 339.5,267.7 341.0,267.2 342.5,267.6 344.0,266.8 345.5,266.8 347.0,267.4 348.5,267.3 350.0,267.1 351.5,267.2 353.0,266.8 354.5,267.1 356.0,267.0 357.5,267.2 359.0,267.4 360.5,267.2 362.0,267.3 363.5,267.1 365.0,267.1 366.5,267.2 368.0,267.1 369.5,267.5 371.0,267.0 372.5,267.6 374.0,267.0 375.5,267.4 377.0,267.0 378.5,267.5 380.0,267.2 381.5,267.3 383.0,267.3 384.5,267.1 386.0,267.0 387.5,266.8 389.0,267.4 390.5,267.1 392.0,267.1 393.5,267.2 395.0,267.6 396.5,266.9 398.0,267.2 399.5,267.1 401.0,267.3 402.5,266.8 404.0,267.1 405.5,267.4 407.0,267.5 408.5,267.5 410.0,267.0 411.5,267.2 413.0,267.2 414.5,266.9 416.0,266.9 417.5,267.4 419.0,267.2 420.5,267.2 422.0,267.4 423.5,267.0 425.0,267.3 426.5,267.2 428.0,267.2 429.5,267.3 431.0,267.2 432.5,267.3 434.0,267.3 435.5,267.6 437.0,267.1 438.5,267.4 440.0,267.3 441.5,267.1 443.0,267.4 444.5,267.0 446.0,267.4 447.5,267.0 449.0,267.1 450.5,267.3 452.0,267.4 453.5,267.4 455.0,267.4 456.5,267.2 458.0,267.0 459.5,267.3 461.0,267.3 462.5,266.5 464.0,265.3 465.5,263.7 467.0,261.9 468.5,260.6 470.0,258.7 471.5,257.1 473.0,255.6 474.5,253.4 476.0,252.0 477.5,250.0 479.0,248.6 480.5,246.5 482.0,244.8 483.5,242.5 485.0,240.8 486.5,239.5 488.0,238.8 489.5,237.8 491.0,237.8 492.5,237.2 494.0,236.2 495.5,235.8 497.0,234.4 498.5,233.8 500.0,233.2 501.5,232.4 503.0,231.5 504.5,230.1 506.0,229.2 507.5,228.9 509.0,227.7 510.5,227.2 512.0,226.2 513.5,226.0 515.0,225.4 516.5,224.7 518.0,223.9 519.5,223.3 521.0,222.6 522.5,222.0 524.0,221.0 525.5,220.1 527.0,219.0 528.5,218.9 530.0,218.6 531.5,218.8 533.0,218.8 534.5,218.3 536.0,218.2 537.5,218.8 539.0,218.4 540.5,218.5 542.0,218.4 543.5,218.5 545.0,218.3 546.5,218.5 548.0,218.4 549.5,218.5 551.0,218.0 552.5,218.7 554.0,218.6 555.5,218.2 557.0,218.4 558.5,218.5 560.0,218.6 561.5,218.5 563.0,218.8 564.5,218.5 566.0,218.3 567.5,218.4 569.0,218.6 570.5,218.4 572.0,218.7 573.5,218.7 575.0,218.6 576.5,218.7 578.0,218.5 579.5,218.5 581.0,218.4 582.5,218.4 584.0,218.2 585.5,218.4 587.0,218.3 588.5,218.2 590.0,218.5 591.5,218.6 593.0,218.4 594.5,218.8 596.0,218.7 597.5,218.7 599.0,218.4 600.5,218.2 602.0,218.6 603.5,218.6 605.0,218.6 606.5,218.6 608.0,218.8 609.5,218.4 611.0,218.6 612.5,218.3 614.0,218.0 615.5,218.4 617.0,218.8 618.5,218.2 620.0,218.7 621.5,218.4 623.0,218.4 624.5,218.5 626.0,218.5 627.5,218.3 629.0,218.5 630.5,218.6 632.0,218.7 633.5,218.3 635.0,218.8 636.5,218.9 638.0,219.0 639.5,218.2 641.0,218.5 642.5,218.1" fill="none" stroke="#4fe4e4" stroke-width="1.8" stroke-linejoin="round" stroke-linecap="butt" />
<polyline points="419.2,267.5 419.2,229.2 420.2,229.2 420.2,267.5" fill="none" stroke="#4fe4e4" stroke-width="1.6" stroke-linejoin="round" stroke-linecap="butt" />
<polyline points="63.5,212.9 64.5,213.4 65.5,213.8 66.5,213.9 67.5,213.8 68.5,213.3 69.5,213.4 70.5,213.2 71.5,212.8 72.5,213.1 73.5,213.7 74.5,213.4 75.5,213.2 76.5,212.9 77.5,213.3 78.5,213.1 79.5,213.3 80.5,213.5 81.5,212.4 82.5,213.3 83.5,212.7 84.5,212.9 85.5,212.8 86.5,213.7 87.5,213.6 88.5,213.5 89.5,213.0 90.5,212.7 91.5,213.1 92.5,213.4 93.5,213.3 94.5,213.6 95.5,213.2 96.5,214.0 97.5,213.6 98.5,214.1 99.5,213.4 100.5,213.2 101.5,213.0 102.5,213.6 103.5,213.7 104.5,213.4 105.5,213.5 106.5,213.2 107.5,213.1 108.5,211.9 109.5,200.1 110.5,192.8 111.5,187.1 112.5,181.0 113.5,173.8 114.5,166.0 115.5,158.9 116.5,153.6 117.5,147.5 118.5,143.2 119.5,137.7 120.5,129.0 121.5,124.0 122.5,122.6 123.5,121.0 124.5,119.7 125.5,117.5 126.5,115.8 127.5,115.1 128.5,113.7 129.5,113.0 130.5,112.7 131.5,112.4 132.5,113.5 133.5,112.1 134.5,111.7 135.5,111.2 136.5,110.3 137.5,111.1 138.5,111.4 139.5,111.0 140.5,110.6 141.5,110.0 142.5,109.8 143.5,110.3 144.5,110.0 145.5,109.7 146.5,110.8 147.5,109.7 148.5,109.8 149.5,109.1 150.5,110.7 151.5,109.8 152.5,109.7 153.5,109.7 154.5,109.2 155.5,109.1 156.5,109.4 157.5,108.9 158.5,109.3 159.5,109.6 160.5,109.4 161.5,109.7 162.5,109.5 163.5,109.7 164.5,109.1 165.5,109.2 166.5,108.6 167.5,108.9 168.5,108.7 169.5,108.9 170.5,108.6 171.5,110.0 172.5,111.9 173.5,113.2 174.5,122.3 175.5,131.5 176.5,136.2 177.5,141.6 178.5,146.8 179.5,153.5 180.5,159.6 181.5,167.4 182.5,173.2 183.5,179.8 184.5,186.8 185.5,193.2 186.5,199.2 187.5,203.0 188.5,203.3 189.5,203.8 190.5,204.6 191.5,203.8 192.5,204.5 193.5,205.5 194.5,206.3 195.5,206.4 196.5,207.0 197.5,208.0 198.5,208.1 199.5,207.8 200.5,207.7 201.5,207.3 202.5,208.1 203.5,208.0 204.5,207.6 205.5,208.2 206.5,207.8 207.5,207.9 208.5,207.3 209.5,208.3 210.5,207.7 211.5,208.1 212.5,208.1 213.5,207.8 214.5,208.0 215.5,207.9 216.5,207.9 217.5,208.1 218.5,207.7 219.5,208.2 220.5,208.0 221.5,207.5 222.5,208.1 223.5,207.8 224.5,208.2 225.5,207.0 226.5,208.1 227.5,207.1 228.5,207.8 229.5,209.2 230.5,208.2 231.5,208.4 232.5,207.7 233.5,207.5 234.5,207.9 235.5,208.1 236.5,207.9 237.5,207.7 238.5,208.1 239.5,208.8 240.5,210.2 241.5,210.0 242.5,210.4 243.5,210.5 244.5,210.2 245.5,210.0 246.5,210.6 247.5,211.1 248.5,210.8 249.5,210.0 250.5,211.2 251.5,210.7 252.5,211.3 253.5,210.5 254.5,210.0 255.5,210.7 256.5,210.5 257.5,210.1 258.5,210.3 259.5,210.4 260.5,210.2 261.5,210.8 262.5,210.7 263.5,210.4 264.5,210.4 265.5,210.9 266.5,210.7 267.5,210.1 268.5,210.7 269.5,211.3 270.5,210.7 271.5,210.2 272.5,211.2 273.5,211.6 274.5,210.7 275.5,209.7 276.5,210.0 277.5,211.4 278.5,210.5 279.5,210.9 280.5,210.8 281.5,210.7 282.5,211.3 283.5,210.7 284.5,210.9 285.5,210.8 286.5,210.7 287.5,211.6 288.5,210.2 289.5,210.1 290.5,211.1 291.5,210.1 292.5,210.7 293.5,210.2 294.5,211.0 295.5,210.6 296.5,210.9 297.5,210.6 298.5,212.7 299.5,220.3 300.5,230.1 301.5,238.4 302.5,246.7 303.5,255.2 304.5,255.7 305.5,256.5 306.5,258.0 307.5,257.7 308.5,258.5 309.5,259.7 310.5,260.3 311.5,260.4 312.5,261.7 313.5,262.0 314.5,261.5 315.5,262.7 316.5,261.8 317.5,263.2 318.5,262.2 319.5,263.2 320.5,263.2 321.5,263.3 322.5,263.9 323.5,263.4 324.5,263.7 325.5,263.8 326.5,265.0 327.5,264.4 328.5,265.2 329.5,265.4 330.5,266.3 331.5,265.9 332.5,266.4 333.5,267.0 334.5,267.7 335.5,267.8 336.5,268.4 337.5,268.5 338.5,268.7 339.5,268.5 340.5,268.8 341.5,268.1 342.5,268.1 343.5,268.0 344.5,268.0 345.5,267.9 346.5,268.9 347.5,269.0 348.5,268.4 349.5,269.4 350.5,269.5 351.5,269.6 352.5,270.2 353.5,271.0 354.5,270.8 355.5,270.1 356.5,271.0 357.5,270.6 358.5,271.6 359.5,270.7 360.5,270.9 361.5,270.8 362.5,270.6 363.5,270.7 364.5,270.9 365.5,271.7 366.5,270.5 367.5,270.4 368.5,270.0 369.5,269.7 370.5,269.7 371.5,270.1 372.5,268.3 373.5,269.3 374.5,269.2 375.5,269.9 376.5,269.2 377.5,269.9 378.5,270.0 379.5,269.3 380.5,269.7 381.5,269.3 382.5,269.9 383.5,269.7 384.5,270.0 385.5,269.9 386.5,269.1 387.5,270.1 388.5,269.5 389.5,270.0 390.5,269.6 391.5,269.9 392.5,269.1 393.5,269.2 394.5,266.5 395.5,265.6 396.5,265.0 397.5,264.3 398.5,266.2 399.5,267.0 400.5,268.4 401.5,268.5 402.5,268.1 403.5,268.1 404.5,268.2 405.5,268.6 406.5,268.5 407.5,268.8 408.5,269.1 409.5,268.4 410.5,268.3 411.5,268.7 412.5,268.7 413.5,267.7 414.5,268.3 415.5,268.6 416.5,268.8 417.5,268.3 418.5,264.1 419.5,265.3 420.5,267.3 421.5,269.1 422.5,268.4 423.5,268.5 424.5,268.7 425.5,268.9 426.5,268.4 427.5,268.3 428.5,269.0 429.5,269.5 430.5,268.9 431.5,270.0 432.5,268.6 433.5,269.5 434.5,269.4 435.5,269.8 436.5,268.9 437.5,269.6 438.5,269.4 439.5,268.6 440.5,269.3 441.5,269.0 442.5,269.5 443.5,269.9 444.5,269.7 445.5,270.5 446.5,270.1 447.5,269.6 448.5,269.8 449.5,270.1 450.5,269.7 451.5,270.2 452.5,270.2 453.5,270.4 454.5,270.1 455.5,270.1 456.5,269.6 457.5,270.1 458.5,270.0 459.5,270.0 460.5,269.5 461.5,268.3 462.5,267.8 463.5,267.0 464.5,265.6 465.5,263.7 466.5,262.4 467.5,261.3 468.5,258.5 469.5,258.7 470.5,258.0 471.5,257.4 472.5,256.3 473.5,255.9 474.5,256.0 475.5,255.5 476.5,255.4 477.5,254.1 478.5,253.2 479.5,253.0 480.5,251.6 481.5,250.8 482.5,250.5 483.5,249.2 484.5,247.6 485.5,246.8 486.5,245.4 487.5,244.7 488.5,243.8 489.5,242.8 490.5,243.2 491.5,242.0 492.5,241.4 493.5,240.2 494.5,239.0 495.5,237.5 496.5,236.4 497.5,234.2 498.5,231.8 499.5,229.2 500.5,226.7 501.5,224.7 502.5,223.2 503.5,222.6 504.5,220.6 505.5,220.1 506.5,219.0 507.5,218.2 508.5,217.7 509.5,217.7 510.5,216.4 511.5,215.6 512.5,214.8 513.5,214.1 514.5,214.0 515.5,214.2 516.5,213.5 517.5,212.5 518.5,211.4 519.5,212.5 520.5,211.9 521.5,210.6 522.5,211.0 523.5,210.3 524.5,210.8 525.5,210.3 526.5,209.5 527.5,209.6 528.5,211.8 529.5,214.4 530.5,215.0 531.5,215.7 532.5,217.1 533.5,217.3 534.5,218.9 535.5,218.0 536.5,218.5 537.5,219.3 538.5,219.1 539.5,218.9 540.5,218.1 541.5,218.7 542.5,218.9 543.5,218.5 544.5,218.7 545.5,219.0 546.5,218.5 547.5,218.9 548.5,218.6 549.5,218.2 550.5,218.1 551.5,218.4 552.5,218.3 553.5,219.1 554.5,218.7 555.5,217.9 556.5,219.3 557.5,219.7 558.5,218.5 559.5,218.9 560.5,218.7 561.5,219.0 562.5,218.8 563.5,218.9 564.5,218.7 565.5,218.5 566.5,218.6 567.5,218.4 568.5,218.5 569.5,218.6 570.5,219.8 571.5,219.1 572.5,219.5 573.5,218.2 574.5,218.6 575.5,219.2 576.5,219.3 577.5,219.0 578.5,218.6 579.5,218.2 580.5,218.9 581.5,218.1 582.5,218.9 583.5,218.6 584.5,218.5 585.5,218.5 586.5,218.2 587.5,218.3 588.5,218.9 589.5,218.5 590.5,218.5 591.5,219.2 592.5,219.0 593.5,218.9 594.5,218.2 595.5,219.2 596.5,219.0 597.5,218.4 598.5,218.6 599.5,219.2 600.5,219.3 601.5,218.7 602.5,218.4 603.5,219.3 604.5,218.7 605.5,219.2 606.5,218.9 607.5,218.8 608.5,218.7 609.5,219.5 610.5,218.7 611.5,218.9 612.5,218.6 613.5,219.7 614.5,218.9 615.5,218.5 616.5,218.9 617.5,218.2 618.5,218.8 619.5,218.4 620.5,219.4 621.5,219.5 622.5,219.9 623.5,218.8 624.5,218.6 625.5,218.1 626.5,219.1 627.5,218.7 628.5,219.5 629.5,219.8 630.5,218.4 631.5,218.9 632.5,219.7 633.5,218.4 634.5,218.5 635.5,219.3 636.5,219.1 637.5,218.3 638.5,219.2 639.5,218.9 640.5,219.0 641.5,219.2 642.5,219.7 643.5,219.4" fill="none" stroke="#9a4a22" stroke-width="2.2" stroke-linejoin="round" stroke-linecap="butt" />
<rect x="63.5" y="14.2" width="630.80" height="394.60" fill="none" stroke="#2a2a2a" stroke-width="1.7"/>
<line x1="660" y1="24.4" x2="681" y2="24.4" stroke="#e4262c" stroke-width="1.5"/>
<line x1="660" y1="37.2" x2="681" y2="37.2" stroke="#1ee43c" stroke-width="1.5"/>
<line x1="660" y1="50.2" x2="681" y2="50.2" stroke="#2b3f9e" stroke-width="1.5"/>
<line x1="660" y1="62.9" x2="681" y2="62.9" stroke="#e35bd2" stroke-width="1.5"/>
<line x1="660" y1="75.7" x2="681" y2="75.7" stroke="#4fe4e4" stroke-width="1.5"/>
<line x1="660" y1="88.9" x2="681" y2="88.9" stroke="#9a4a22" stroke-width="1.5"/>
<text x="55.5" y="24.75" text-anchor="end" class="tk">40</text><text x="55.5" y="74.61" text-anchor="end" class="tk">30</text><text x="55.5" y="124.47" text-anchor="end" class="tk">20</text><text x="55.5" y="174.33" text-anchor="end" class="tk">10</text><text x="55.5" y="224.19" text-anchor="end" class="tk">0</text><text x="55.5" y="274.05" text-anchor="end" class="tk">-10</text><text x="55.5" y="323.91" text-anchor="end" class="tk">-20</text><text x="55.5" y="373.77" text-anchor="end" class="tk">-30</text><text x="55.5" y="423.63" text-anchor="end" class="tk">-40</text><text x="66.50" y="440" text-anchor="middle" class="tk">0</text><text x="126.70" y="440" text-anchor="middle" class="tk">100</text><text x="192.50" y="440" text-anchor="middle" class="tk">200</text><text x="257.90" y="440" text-anchor="middle" class="tk">300</text><text x="319.20" y="440" text-anchor="middle" class="tk">400</text><text x="380.90" y="440" text-anchor="middle" class="tk">500</text><text x="446.40" y="440" text-anchor="middle" class="tk">600</text><text x="507.90" y="440" text-anchor="middle" class="tk">700</text><text x="568.90" y="440" text-anchor="middle" class="tk">800</text><text x="630.50" y="440" text-anchor="middle" class="tk">900</text><text x="692.70" y="440" text-anchor="middle" class="tk">1000</text><text x="344.3" y="464.8" textLength="100.5" lengthAdjust="spacingAndGlyphs" class="ttl" style="font-size:20.6px">TIME (sec)</text><text transform="translate(28.1,273) rotate(-90)" x="0" y="0" class="ttl">ANGLE(deg)</text><text x="566.3" y="30.60" textLength="85.3" lengthAdjust="spacingAndGlyphs" class="lg">Locomotion</text><text x="622.5" y="42.80" class="lg">T</text><text x="634.6" y="42.80" textLength="17.6" lengthAdjust="spacingAndGlyphs" class="lg">oF</text><text x="592.1" y="55.10" textLength="59.5" lengthAdjust="spacingAndGlyphs" class="lg">Beacons</text><text x="621.7" y="67.90" textLength="29.9" lengthAdjust="spacingAndGlyphs" class="lg">IMU</text><text x="608.5" y="80.50" textLength="43.1" lengthAdjust="spacingAndGlyphs" class="lg">Vision</text><text x="572.3" y="93.10" textLength="79.3" lengthAdjust="spacingAndGlyphs" class="lg">Integration</text></svg>
</body></html>
